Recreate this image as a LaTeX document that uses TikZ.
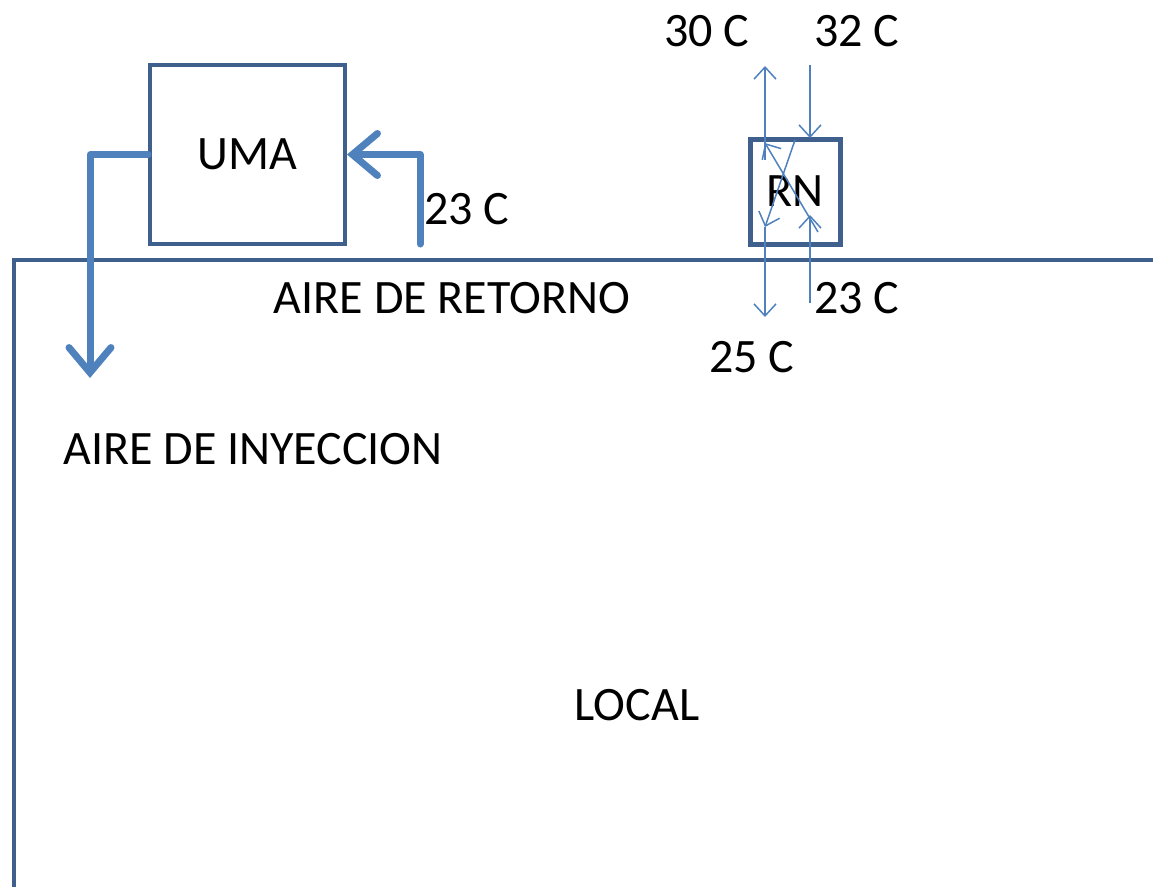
\documentclass[tikz,border=0pt]{standalone}
\usepackage{fontspec}
\setmainfont{Carlito}
\usetikzlibrary{arrows.meta}
\definecolor{boxblue}{HTML}{3F5F8C}
\definecolor{flowblue}{HTML}{4F81BD}

\begin{document}
\begin{tikzpicture}[x=1pt,y=-1pt,
    every node/.style={font=\fontsize{48}{57}\selectfont},
    unit/.style={draw=boxblue,inner sep=0pt},
    duct/.style={draw=flowblue,line width=7pt,line cap=round,line join=round,
        -{Straight Barb[length=25pt,width=42pt,line cap=round]}},
    pipe/.style={draw=flowblue,line width=1.5pt,-{Straight Barb[length=12pt,width=22pt]}}]
    \useasboundingbox (0,0) rectangle (1153,887);
    % local
    \draw[boxblue,line width=4pt] (1153,260) -- (14,260) -- (14,887);
    \node[unit,line width=4pt,minimum width=195pt,minimum height=179pt] (uma) at (247.5,154.5) {UMA};
    \node[unit,line width=5pt,minimum width=90pt,minimum height=105pt] (rn) at (795,191.5) {RN};
    % air
    \coordinate (iny) at (90,378);
    \coordinate (ret) at (420,244);
    \draw[duct] (uma.west) -- (uma.west -| iny) -- (iny);
    \draw[duct] (ret) |- (uma.east);
    % water
    \coordinate (c1) at (765,160);  \coordinate (c2) at (765,66);
    \coordinate (c3) at (810,65);   \coordinate (c4) at (810,138);
    \coordinate (c5) at (818,232);  \coordinate (c6) at (765,143);
    \coordinate (c7) at (795,140);  \coordinate (c8) at (765,227);
    \coordinate (c9) at (765,317);
    \coordinate (c10) at (810,303); \coordinate (c11) at (810,215);
    \draw[pipe] (c1) -- (c2);
    \draw[pipe] (c3) -- (c4);
    \draw[pipe] (c5) -- (c6);
    \draw[pipe] (c7) -- (c8);
    \draw[pipe] (c8) -- (c9);
    \draw[pipe] (c10) -- (c11);
    % labels
    \node (t30) at (707,31) {30 C};
    \node (t32) at (857,31) {32 C};
    \node (t23b) at (857,298) {23 C};
    \node (t25) at (752,357) {25 C};
    \node (t23a) at (467,209) {23 C};
    \node (retorno) at (452,298) {AIRE DE RETORNO};
    \node (inyeccion) at (253,449) {AIRE DE INYECCION};
    \node (local) at (637,705) {LOCAL};
\end{tikzpicture}
\end{document}
